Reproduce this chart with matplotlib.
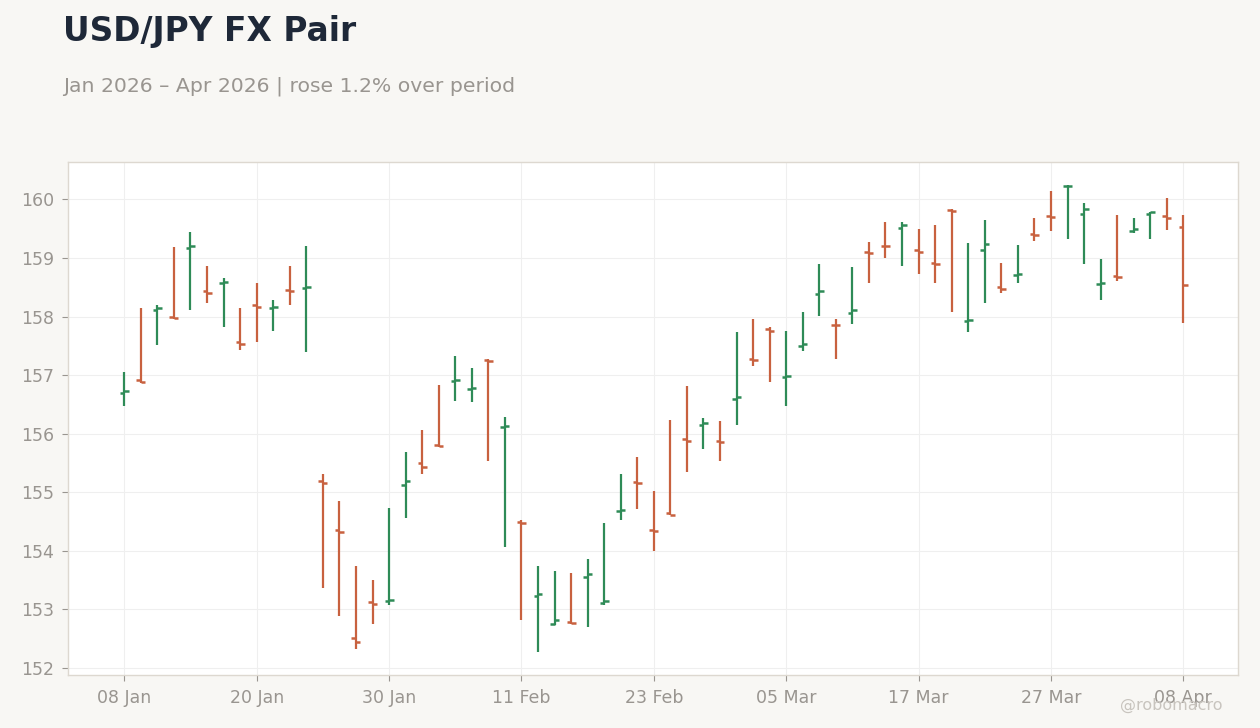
import pandas as pd
import matplotlib.pyplot as plt
import numpy as np

plt.rcParams['font.family'] = ['DejaVu Sans']

# --------------------------
# data: USD/JPY daily OHLC (business days)
# --------------------------
dates = pd.bdate_range('2026-01-08', '2026-04-08')

opens = [156.69, 156.91, 158.12, 158.00, 159.17, 158.44, 158.57, 157.56, 158.19, 158.15,
         158.46, 158.49, 155.19, 154.35, 152.51, 153.13, 153.14, 155.12, 155.50, 155.81,
         156.90, 156.76, 157.26, 156.11, 154.50, 153.23, 152.75, 152.79, 153.55, 153.11,
         154.68, 155.18, 154.36, 154.64, 155.91, 156.15, 155.88, 156.60, 157.27, 157.79,
         156.97, 157.50, 158.38, 157.86, 158.06, 159.10, 159.21, 159.51, 159.13, 158.91,
         159.82, 157.92, 159.13, 158.50, 158.71, 159.41, 159.72, 160.22, 159.75, 158.56,
         158.70, 159.46, 159.75, 159.72, 159.53]
highs = [157.05, 158.15, 158.19, 159.18, 159.44, 158.87, 158.66, 158.14, 158.58, 158.29,
         158.87, 159.20, 155.32, 154.86, 153.75, 153.50, 154.74, 155.68, 156.06, 156.84,
         157.32, 157.13, 157.27, 156.28, 154.53, 153.74, 153.65, 153.62, 153.87, 154.47,
         155.31, 155.61, 155.02, 156.23, 156.81, 156.26, 156.21, 157.73, 157.95, 157.83,
         157.76, 158.07, 158.89, 157.95, 158.84, 159.28, 159.62, 159.62, 159.49, 159.56,
         159.83, 159.25, 159.64, 158.92, 159.22, 159.69, 160.15, 160.24, 159.94, 158.99,
         159.74, 159.69, 159.78, 160.02, 159.73]
lows = [156.48, 156.87, 157.51, 157.96, 158.11, 158.23, 157.82, 157.43, 157.56, 157.75,
        158.20, 157.39, 153.36, 152.89, 152.33, 152.75, 153.08, 154.56, 155.31, 155.78,
        156.56, 156.54, 155.53, 154.07, 152.82, 152.28, 152.74, 152.76, 152.70, 153.07,
        154.52, 154.72, 154.00, 154.62, 155.35, 155.74, 155.53, 156.15, 157.15, 156.88,
        156.47, 157.41, 158.01, 157.27, 157.88, 158.57, 159.00, 158.86, 158.73, 158.57,
        158.08, 157.74, 158.23, 158.40, 158.57, 159.29, 159.46, 159.32, 158.90, 158.28,
        158.61, 159.43, 159.32, 159.48, 157.89]
closes = [156.73, 156.88, 158.15, 157.97, 159.20, 158.40, 158.59, 157.53, 158.17, 158.16,
          158.44, 158.50, 155.16, 154.33, 152.45, 153.09, 153.17, 155.19, 155.44, 155.79,
          156.92, 156.78, 157.24, 156.14, 154.47, 153.26, 152.82, 152.77, 153.61, 153.15,
          154.70, 155.16, 154.34, 154.62, 155.87, 156.19, 155.86, 156.63, 157.25, 157.76,
          156.98, 157.53, 158.44, 157.85, 158.11, 159.08, 159.20, 159.56, 159.10, 158.89,
          159.80, 157.94, 159.24, 158.47, 158.73, 159.39, 159.70, 160.23, 159.83, 158.58,
          158.68, 159.49, 159.78, 159.68, 158.54]

UP = '#2E8B57'
DOWN = '#C8613F'


def plot_ohlc():
    fig = plt.figure(figsize=(12.6, 7.28), dpi=100, facecolor='#F8F7F4')
    ax = fig.add_axes([0.054, 0.0728, 0.9285, 0.7047])
    ax.set_facecolor('white')

    x = np.arange(len(dates))
    o = np.array(opens); h = np.array(highs); l = np.array(lows); c = np.array(closes)
    colors = np.where(c >= o, UP, DOWN)

    # high-low line, open tick on the left, close tick on the right
    ax.vlines(x, l, h, colors=colors, linewidth=1.6, zorder=3)
    ax.hlines(o, x - 0.27, x, colors=colors, linewidth=1.8, zorder=3)
    ax.hlines(c, x, x + 0.27, colors=colors, linewidth=1.8, zorder=3)

    ax.set_xlim(-3.4, 67.3)
    pad = (h.max() - l.min()) * 0.05
    ax.set_ylim(l.min() - pad, h.max() + pad)

    ticks = x[::8]
    ax.set_xticks(ticks)
    ax.set_xticklabels([dates[i].strftime('%d %b') for i in ticks])
    ax.set_yticks(np.arange(152, 161, 1))

    ax.grid(True, color='#EFEFEF', linewidth=0.8, zorder=0)
    ax.set_axisbelow(True)
    for s in ax.spines.values():
        s.set_color('#DDD8D0')
        s.set_linewidth(1.0)
    ax.tick_params(colors='#999590', labelsize=12.5, length=4, width=0.8, pad=6)
    ax.tick_params(axis='x', pad=6)

    fig.text(0.05, 0.943, 'USD/JPY FX Pair', fontsize=23.7, fontweight='bold',
             color='#1E2838', va='baseline')
    fig.text(0.05, 0.875, 'Jan 2026 \u2013 Apr 2026 | rose 1.2% over period',
             fontsize=14.7, color='#999590', va='baseline')
    fig.text(0.97, 0.025, '@robomacro', fontsize=11.5, color='#C8C4BE',
             ha='right', va='baseline')

    fig.savefig('out.png', dpi=100, facecolor=fig.get_facecolor())


if __name__ == '__main__':
    plot_ohlc()
